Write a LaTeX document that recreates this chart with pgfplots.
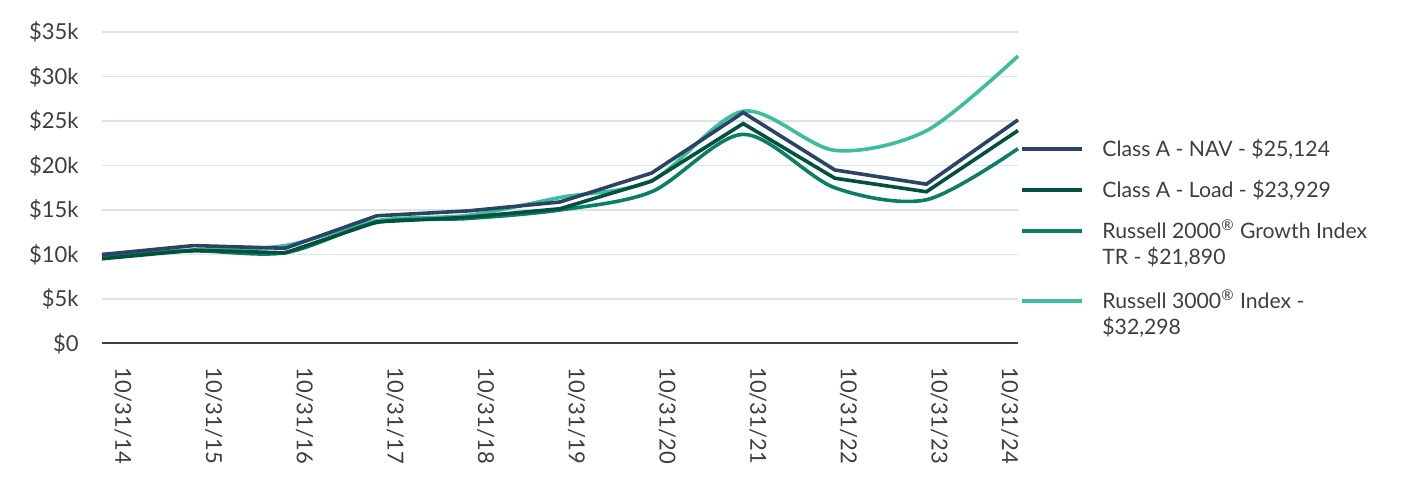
\documentclass[border=0pt]{standalone}
\usepackage{fontspec}
\setmainfont{Lato}
\usepackage{pgfplots}
\pgfplotsset{compat=1.18}
\definecolor{navc}{HTML}{2B4466}
\definecolor{loadc}{HTML}{00513D}
\definecolor{rtwo}{HTML}{0B7F64}
\definecolor{rthree}{HTML}{3DBD9B}
\definecolor{gridc}{HTML}{DDE2E2}
\definecolor{txt}{HTML}{3A3F44}
\begin{document}
\begin{tikzpicture}[x=1pt,y=1pt]
\useasboundingbox (0,0) rectangle (714,240);
\begin{axis}[
  at={(51pt,68.25pt)}, anchor=south west,
  width=458pt, height=155.75pt, scale only axis,
  xmin=0, xmax=10, ymin=0, ymax=35000,
  scaled y ticks=false,
  axis x line*=bottom, axis y line*=left,
  y axis line style={draw=none},
  x axis line style={draw=txt, line width=1pt, -},
  major tick length=0pt,
  ymajorgrids, grid style={gridc, line width=0.7pt},
  ytick={0,5000,10000,15000,20000,25000,30000,35000},
  yticklabels={\$0,\$5k,\$10k,\$15k,\$20k,\$25k,\$30k,\$35k},
  xtick={0.23,1.22,2.21,3.2,4.19,5.18,6.17,7.16,8.15,9.14,9.91},
  xticklabels={10/31/14,10/31/15,10/31/16,10/31/17,10/31/18,10/31/19,10/31/20,10/31/21,10/31/22,10/31/23,10/31/24},
  ticklabel style={font=\fontsize{11}{13}\selectfont, text=txt, inner sep=0pt},
  yticklabel style={anchor=east},
  yticklabel shift={11.5pt},
  xticklabel style={rotate=-90, anchor=west},
  xticklabel shift={11.75pt},
  clip=false,
]
\addplot[rthree, line width=1.8pt, smooth] coordinates {
(0,10000) (1,10500) (2,11000) (3,13800) (4,14400) (5,16400) (6,18300) (7,26100) (8,21700) (9,23900) (10,32298)};
\addplot[rtwo, line width=1.8pt, smooth] coordinates {
(0,9800) (1,10400) (2,10200) (3,13600) (4,14050) (5,15000) (6,17050) (7,23500) (8,17500) (9,16150) (10,21890)};
\addplot[loadc, line width=1.8pt] coordinates {
(0,9520) (1,10480) (2,10190) (3,13670) (4,14190) (5,15140) (6,18240) (7,24710) (8,18570) (9,17050) (10,23929)};
\addplot[navc, line width=1.8pt] coordinates {
(0,10000) (1,11000) (2,10700) (3,14350) (4,14900) (5,15900) (6,19150) (7,25950) (8,19500) (9,17900) (10,25124)};
\end{axis}
\begin{scope}[every node/.style={font=\fontsize{10.6}{12.7}\selectfont, text=txt, anchor=base west, inner sep=0pt}]
\draw[navc, line width=1.8pt] (511,165.5) -- (541,165.5);
\node at (551,161.7) {Class A - NAV - \$25,124};
\draw[loadc, line width=1.8pt] (511,145) -- (541,145);
\node at (551,141.2) {Class A - Load - \$23,929};
\draw[rtwo, line width=1.8pt] (511,124.5) -- (541,124.5);
\node at (551,120.7) {Russell 2000\textsuperscript{®} Growth Index};
\node at (551,107.7) {TR - \$21,890};
\draw[rthree, line width=1.8pt] (511,89.5) -- (541,89.5);
\node at (551,85.7) {Russell 3000\textsuperscript{®} Index -};
\node at (551,72.7) {\$32,298};
\end{scope}
\end{tikzpicture}
\end{document}
